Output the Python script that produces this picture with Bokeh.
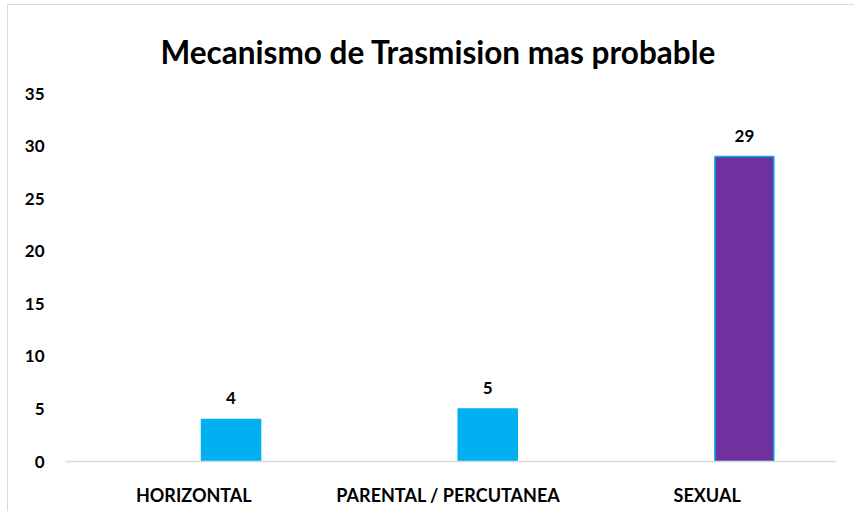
from bokeh.plotting import figure
from bokeh.models import ColumnDataSource, LabelSet, Range1d, FactorRange
from bokeh.core.properties import value
from bokeh.transform import dodge
from bokeh.embed import file_html
from bokeh.resources import INLINE

title_text = "Mecanismo de Trasmision mas probable"
categories = ["HORIZONTAL", "PARENTAL  / PERCUTANEA", "SEXUAL"]
values = [4, 5, 29]
fill_colors = ["#00B0F0", "#00B0F0", "#7030A0"]
labels = ["4", "5", "29"]
y_ticks = [0, 5, 10, 15, 20, 25, 30, 35]

FONT = "Lato"

src = ColumnDataSource(dict(cat=categories, val=values, color=fill_colors, lab=labels))

p = figure(x_range=FactorRange(*categories), y_range=Range1d(0, 35),
           width=847, height=507, output_backend="svg", toolbar_location=None,
           title=title_text,
           min_border_left=57, min_border_right=20, min_border_bottom=51, min_border_top=88)
p.styles = {"margin-left": "7px", "margin-top": "4px",
            "border-left": "1px solid #D9D9D9", "border-top": "1px solid #D9D9D9"}

p.title.align = "left"
p.title.offset = 95
p.title.text_font = FONT
p.title.text_font_style = "bold"
p.title.text_font_size = "31.5px"
p.title.text_color = "#000000"
p.title.standoff = 46

p.vbar(x=dodge("cat", 0.145, range=p.x_range), top="val", width=0.23, source=src,
       fill_color="color", line_color="#00B0F0", line_width=1.5)

p.add_layout(LabelSet(x=dodge("cat", 0.145, range=p.x_range), y="val", text="lab", source=src,
                      text_align="center", text_baseline="bottom", y_offset=15,
                      text_font=value(FONT), text_font_style="bold", text_font_size="17px",
                      text_color="#000000"))

p.xgrid.grid_line_color = None
p.ygrid.grid_line_color = None
p.outline_line_color = None

p.yaxis.ticker = y_ticks
p.yaxis.axis_line_color = None
p.yaxis.major_tick_line_color = None
p.yaxis.minor_tick_line_color = None
p.yaxis.major_label_standoff = 15
p.yaxis.major_label_text_font = FONT
p.yaxis.major_label_text_font_style = "bold"
p.yaxis.major_label_text_font_size = "17px"
p.yaxis.major_label_text_color = "#000000"

p.xaxis.axis_line_color = "#D9D9D9"
p.xaxis.axis_line_width = 1.5
p.xaxis.major_tick_line_color = None
p.xaxis.minor_tick_line_color = None
p.xaxis.major_label_standoff = 16
p.xaxis.major_label_text_font = FONT
p.xaxis.major_label_text_font_style = "bold"
p.xaxis.major_label_text_font_size = "18px"
p.xaxis.major_label_text_color = "#000000"

open("out.html", "w").write(file_html(p, INLINE))
